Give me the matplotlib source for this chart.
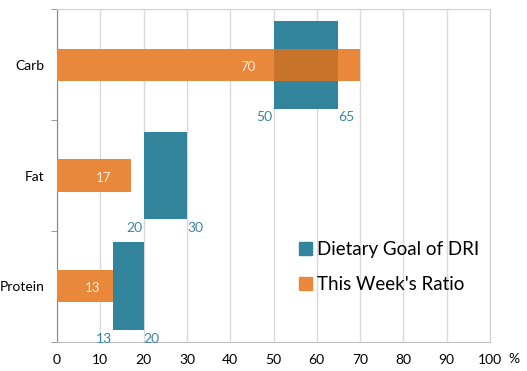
import matplotlib
matplotlib.use("Agg")
import matplotlib.pyplot as plt
from matplotlib.patches import Patch

categories = ["Carb", "Fat", "Protein"]
week_ratio = [70, 17, 13]
goal_low = [50, 20, 13]
goal_high = [65, 30, 20]
x_ticks = [0, 10, 20, 30, 40, 50, 60, 70, 80, 90, 100]

TEAL = "#31849B"
ORANGE = "#E9873A"
OVERLAP = "#C8732A"
FONT = "Lato"

plt.rcParams["font.family"] = [FONT, "DejaVu Sans"]

fig = plt.figure(figsize=(5.27, 3.71), dpi=100)
ax = fig.add_axes([0.1082, 0.0795, 0.8216, 0.8949])

y = list(range(len(categories)))
goal_w = [h - l for l, h in zip(goal_low, goal_high)]

ax.barh(y, goal_w, left=goal_low, height=0.79, color=TEAL, zorder=2)
ax.barh(y, week_ratio, height=0.29, color=ORANGE, zorder=3)

# overlap region (orange over teal)
for yi, v, lo, hi in zip(y, week_ratio, goal_low, goal_high):
    s, e = max(0, lo), min(v, hi)
    if e > s:
        ax.barh(yi, e - s, left=s, height=0.29, color=OVERLAP, zorder=4)

for yi, v in zip(y, week_ratio):
    ax.text(v * 0.63, yi + 0.02, str(v), color="#FCEBD6", fontsize=9.5,
            ha="center", va="center", zorder=5)

for yi, lo, hi in zip(y, goal_low, goal_high):
    ax.text(lo - 0.3, yi + 0.42, str(lo), color="#3C86A3", fontsize=10,
            ha="right", va="top", zorder=5)
    ax.text(hi, yi + 0.42, str(hi), color="#3C86A3", fontsize=10,
            ha="left", va="top", zorder=5)

ax.set_xlim(0, 100)
ax.set_ylim(len(categories) - 0.5, -0.5)
ax.set_xticks(x_ticks)
ax.set_xticklabels([str(t) for t in x_ticks], fontsize=10)
ax.set_yticks(y)
ax.set_yticklabels(categories, fontsize=10)
ax.set_yticks([i - 0.5 for i in range(len(categories) + 1)], minor=True)
ax.tick_params(axis="y", which="major", length=0, pad=9)
ax.tick_params(axis="y", which="minor", length=4, color="#868686", direction="out")
ax.tick_params(axis="x", length=0, pad=9)

ax.grid(axis="x", color="#D9D9D9", linewidth=1, zorder=0)
ax.set_axisbelow(True)
ax.spines["left"].set_color("#868686")
ax.spines["bottom"].set_color("#BFBFBF")
ax.spines["top"].set_color("#D0D0D0")
ax.spines["right"].set_color("#D0D0D0")

ax.text(1.056, -0.052, "%", transform=ax.transAxes, fontsize=10,
        ha="center", va="center")

handles = [Patch(color=TEAL, label="Dietary Goal of DRI"),
           Patch(color=ORANGE, label="This Week's Ratio")]
ax.legend(handles=handles, loc="upper left", bbox_to_anchor=(0.558, 0.302),
          frameon=False, fontsize=13.5, handlelength=0.7, handleheight=0.7,
          handletextpad=0.3, labelspacing=0.95, borderpad=0, borderaxespad=0)

fig.savefig("out.png", dpi=100)
